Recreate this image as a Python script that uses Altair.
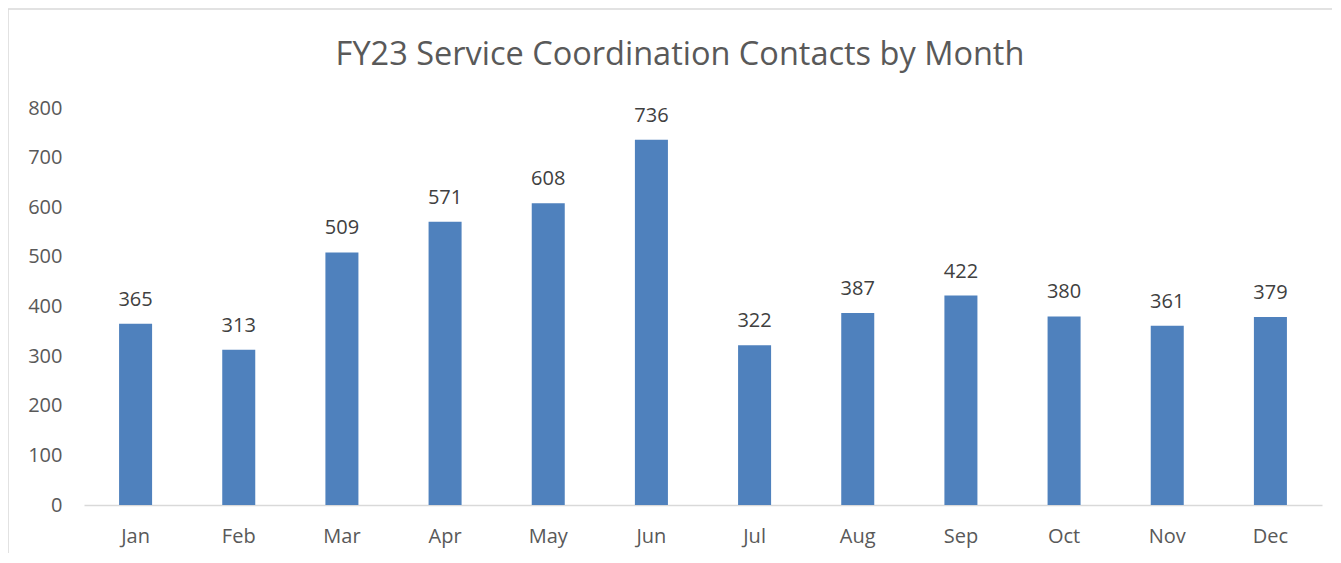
import altair as alt
import pandas as pd

months = ["Jan", "Feb", "Mar", "Apr", "May", "Jun", "Jul", "Aug", "Sep", "Oct", "Nov", "Dec"]
contacts = [365, 313, 509, 571, 608, 736, 322, 387, 422, 380, 361, 379]
y_ticks = [0, 100, 200, 300, 400, 500, 600, 700, 800]
title_text = "FY23 Service Coordination Contacts by Month"

df = pd.DataFrame({"month": months, "contacts": contacts})
title_df = pd.DataFrame({"title": [title_text]})

FONT = "Open Sans"
GREY = "#595959"

x = alt.X("month:N", sort=months, title=None,
          scale=alt.Scale(paddingInner=0.68, paddingOuter=0.34),
          axis=alt.Axis(labelAngle=0, ticks=False, domainColor="#D9D9D9", domainWidth=1.5,
                        labelFont=FONT, labelFontSize=20, labelColor=GREY, labelPadding=21))
y = alt.Y("contacts:Q", title=None,
          scale=alt.Scale(domain=[0, 800], nice=False),
          axis=alt.Axis(values=y_ticks, grid=False, ticks=False, domain=False,
                        labelFont=FONT, labelFontSize=20, labelColor=GREY, labelPadding=22))

base = alt.Chart(df)
bars = base.mark_bar(color="#4F81BD").encode(x=x, y=y)
labels = base.mark_text(baseline="bottom", dy=-14, font=FONT, fontSize=20, color="#404040").encode(
    x=x, y=y, text=alt.Text("contacts:Q"))

frame_left = alt.Chart(title_df).mark_rule(color="#D9D9D9", strokeWidth=1.5).encode(
    x=alt.value(-76), y=alt.value(-99), y2=alt.value(460))
frame_top = alt.Chart(title_df).mark_rule(color="#D9D9D9", strokeWidth=1.5).encode(
    x=alt.value(-76), x2=alt.value(1300), y=alt.value(-99))

title = alt.Chart(title_df).mark_text(font=FONT, fontSize=32.5, color=GREY,
                                      align="center", baseline="middle").encode(
    text="title:N", x=alt.value(596), y=alt.value(-53))

chart = (frame_left + frame_top + bars + labels + title).properties(
    width=1238, height=397,
    padding={"left": 76, "top": 100, "right": 10, "bottom": 48},
    autosize=alt.AutoSizeParams(type="none"),
    background="white",
).configure_view(strokeWidth=0, stroke="transparent")

chart.save("out.html", embed_options={"renderer": "svg", "actions": False})
